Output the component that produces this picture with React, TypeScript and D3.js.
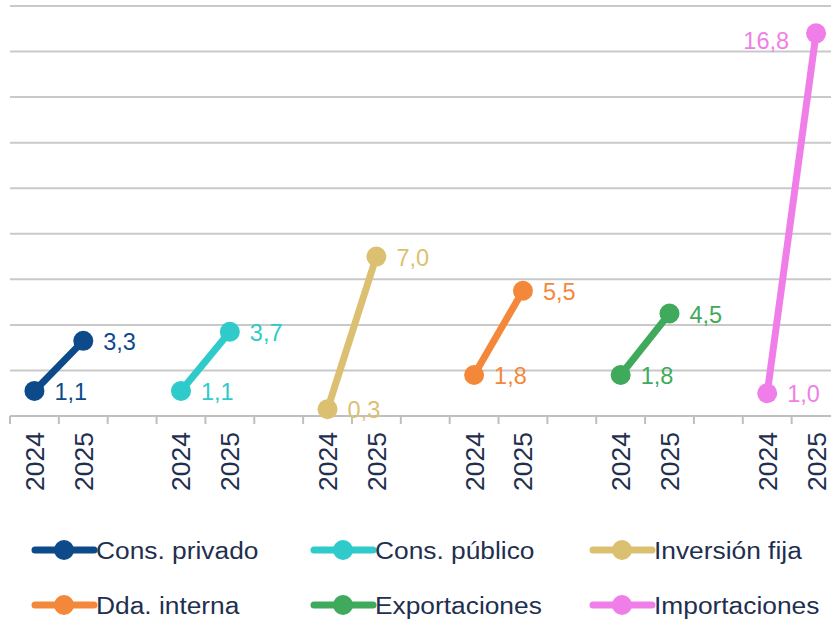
import React from "react";
import * as d3 from "d3";

const seriesNames = ["Cons. privado", "Cons. público", "Inversión fija", "Dda. interna", "Exportaciones", "Importaciones"];
const years = ["2024", "2025"];
const values2024 = [1.1, 1.1, 0.3, 1.8, 1.8, 1.0];
const values2025 = [3.3, 3.7, 7.0, 5.5, 4.5, 16.8];
const labels2024 = ["1,1", "1,1", "0,3", "1,8", "1,8", "1,0"];
const labels2025 = ["3,3", "3,7", "7,0", "5,5", "4,5", "16,8"];
const colors = ["#0c4a8a", "#2fcaca", "#dcc072", "#f4883a", "#3fa95c", "#f07ee8"];
const yTicks = [0, 2, 4, 6, 8, 10, 12, 14, 16, 18];

const W = 831;
const H = 619;
const FONT = "'Liberation Sans', Arial, sans-serif";
const TEXT = "#1f2f4f";

export default function App() {
  const slots: string[] = [];
  seriesNames.forEach((_, gi) => {
    years.forEach((y) => slots.push(`${gi}-${y}`));
    if (gi < seriesNames.length - 1) slots.push(`${gi}-gap`);
  });
  const x = d3.scaleBand<string>().domain(slots).range([10, 840.5]).paddingInner(0).paddingOuter(0);
  const y = d3.scaleLinear().domain([0, 18]).range([416, 6]);
  const bw = x.bandwidth();
  const cx = (key: string) => (x(key) as number) + bw / 2;

  const boundaries = d3.range(slots.length + 1).map((i) => 10 + i * bw);

  return (
    <svg width={W} height={H} style={{ position: "absolute", left: 0, top: 0, background: "#fff" }} fontFamily={FONT}>
      {yTicks.map((t) => (
        <line key={t} x1={10} x2={W} y1={y(t)} y2={y(t)} stroke={t === 0 ? "#bfbfbf" : "#c9c9c9"} strokeWidth={2} />
      ))}
      {boundaries.map((bx, i) => (
        <line key={i} x1={bx} x2={bx} y1={416} y2={424} stroke="#bfbfbf" strokeWidth={2} />
      ))}
      {slots.map((s) => {
        const parts = s.split("-");
        if (parts[1] === "gap") return null;
        const px = cx(s);
        return (
          <text key={s} transform={`translate(${px + 9.5},432) rotate(-90)`} textAnchor="end" fontSize={26.5} fill={TEXT}>
            {parts[1]}
          </text>
        );
      })}
      {seriesNames.map((name, gi) => {
        const x0 = cx(`${gi}-2024`);
        const x1 = cx(`${gi}-2025`);
        const y0 = y(values2024[gi]);
        const y1 = y(values2025[gi]);
        const c = colors[gi];
        const isLast = gi === seriesNames.length - 1;
        return (
          <g key={name}>
            <line x1={x0} y1={y0} x2={x1} y2={y1} stroke={c} strokeWidth={7} />
            <circle cx={x0} cy={y0} r={10} fill={c} />
            <circle cx={x1} cy={y1} r={10} fill={c} />
            <text x={x0 + 20} y={y0 + 9} fontSize={23.5} fill={c}>{labels2024[gi]}</text>
            {isLast ? (
              <text x={x1 - 27} y={y1 + 16} fontSize={23.5} fill={c} textAnchor="end">{labels2025[gi]}</text>
            ) : (
              <text x={x1 + 20} y={y1 + 9} fontSize={23.5} fill={c}>{labels2025[gi]}</text>
            )}
          </g>
        );
      })}
      {seriesNames.map((name, i) => {
        const col = i % 3;
        const row = Math.floor(i / 3);
        const lx = 35 + col * 279;
        const ly = 550 + row * 55;
        const c = colors[i];
        return (
          <g key={`lg-${name}`}>
            <line x1={lx} x2={lx + 59} y1={ly} y2={ly} stroke={c} strokeWidth={7} strokeLinecap="round" />
            <circle cx={lx + 29} cy={ly} r={10} fill={c} />
            <text transform={`translate(${lx + 61},${ly + 8.5}) scale(1.075,1)`} fontSize={24.5} fill={TEXT}>{name}</text>
          </g>
        );
      })}
    </svg>
  );
}
